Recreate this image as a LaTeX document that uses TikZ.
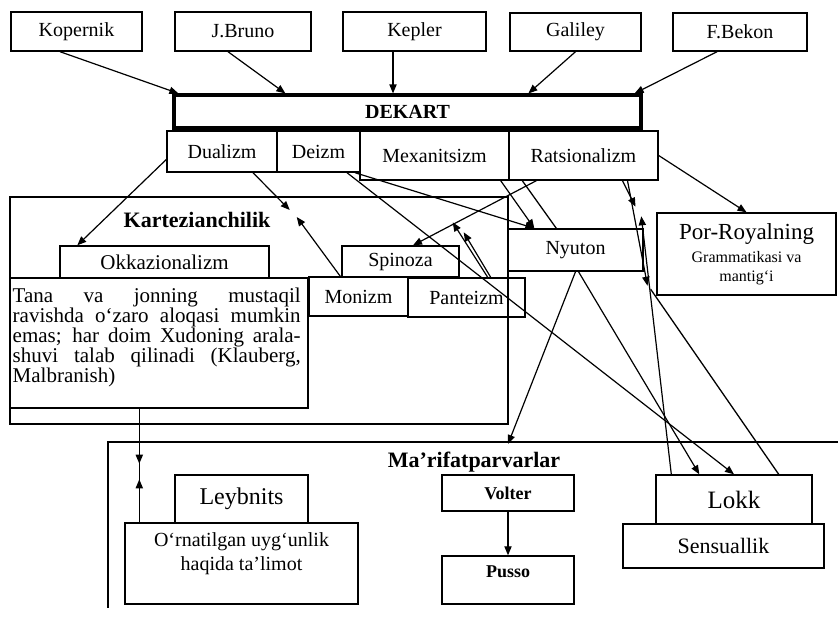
\documentclass[tikz,border=0pt]{standalone}
\usepackage{fontspec}
\setmainfont{Liberation Serif}
\usetikzlibrary{arrows.meta,positioning}
\tikzset{
  >={Triangle[length=4.5pt,width=3.6pt]},
  box/.style 2 args={draw,line width=0.7pt,inner sep=0pt,minimum width=#1*0.5pt,
    minimum height=#2*0.5pt,align=center,font=\fontsize{10}{12}\selectfont},
  frame/.style={line width=0.65pt},
  link/.style={->,line width=0.6pt},
  title/.style={inner sep=0pt,font=\fontsize{11}{13}\selectfont\bfseries},
  inner/.style={inner sep=0pt,align=#1},
  inner/.default=center,
}

\begin{document}
\begin{tikzpicture}[x=0.5pt,y=-0.5pt]
  \useasboundingbox (0,0) rectangle (838,618);
  % predecessors
  \node[box={131}{39}] (kop) at (76.5,31.5) {Kopernik};
  \node[box={136}{39}] (bru) at (243,31.5) {J.Bruno};
  \node[box={143}{39}] (kep) at (414.5,31.5) {Kepler};
  \node[box={131}{38}] (gal) at (575.5,32) {Galiley};
  \node[box={134}{38}] (bek) at (740,32) {F.Bekon};
  % Dekart and his teaching
  \node[box={467}{33},line width=1.6pt,font=\bfseries] (dek) at (407.5,111.5) {DEKART};
  \node[box={110}{41}] (dua) at (222,151.5) {Dualizm};
  \node[box={83}{41}] (dei) at (318.5,151.5) {Deizm};
  \node[box={149}{49}] (mex) at (434.5,155.5) {Mexanitsizm};
  \node[box={149}{49}] (rat) at (583.5,155.5) {Ratsionalizm};
  % Kartezianchilik
  \draw[frame] (10,197) rectangle (508,424);
  \node[title] (kart) at (197,220) {Kartezianchilik};
  \node[box={209}{32},font=\fontsize{10.5}{12}\selectfont] (okk) at (164.5,262) {Okkazionalizm};
  \node[box={298}{130}] (tana) at (159,343) {};
  \node[inner=left,font=\fontsize{10.5}{10}\selectfont,below right=5pt and 1.5pt of tana.north west] (tanaT)
    {\makebox[144pt][s]{Tana va jonning mustaqil}\\
     \makebox[144pt][s]{ravishda o‘zaro aloqasi mumkin}\\
     \makebox[144pt][s]{emas; har doim Xudoning arala-}\\
     \makebox[144pt][s]{shuvi talab qilinadi (Klauberg,}\\
     Malbranish)};
  \node[box={117}{31}] (spi) at (400.5,261.5) {Spinoza};
  \node[box={99}{39}] (mon) at (358.5,296.5) {Monizm};
  \node[box={117}{39}] (pan) at (466.5,297.5) {Panteizm};
  \node[box={135}{42}] (nyu) at (575.5,250) {Nyuton};
  \node[box={179}{82},font=\fontsize{8}{9.5}\selectfont] (por) at (746.5,254)
    {{\fontsize{11.5}{13}\selectfont Por-Royalning}\\[2pt]Grammatikasi va\\mantig‘i};
  % Ma'rifatparvarlar
  \draw[frame] (838,442) -| (108,608);
  \node[title] (marif) at (474,462) {Ma’rifatparvarlar};
  \coordinate (mtop) at (508,444);
  \node[box={133}{48},font=\fontsize{12}{14}\selectfont] (ley) at (241.5,499) {Leybnits};
  \node[box={233}{81}] (orn) at (241.5,563.5) {};
  \node[inner,font=\fontsize{10}{12}\selectfont,below=5pt of orn.north] (ornT)
    {O‘rnatilgan uyg‘unlik\\haqida ta’limot};
  \node[box={132}{36},font=\fontsize{9}{11}\selectfont\bfseries] (vol) at (508,493) {Volter};
  \node[box={132}{48}] (pus) at (508,580) {};
  \node[inner,font=\fontsize{9}{11}\selectfont\bfseries,below=5pt of pus.north] (pusT) {Pusso};
  \node[box={156}{49},font=\fontsize{12.5}{14}\selectfont] (lok) at (734,499.5) {Lokk};
  \node[box={201}{44},font=\fontsize{11}{13}\selectfont] (sen) at (723.5,546) {Sensuallik};

  % into Dekart
  \draw[link] ([xshift=-8.25pt]kop.south) -- ([xshift=3pt]dek.north west);
  \draw[link] ([xshift=-7.5pt]bru.south) -- ([xshift=56.5pt]dek.north west);
  \draw[link] ([xshift=-10.75pt]kep.south) -- ([xshift=-10.75pt]kep.south |- dek.north);
  \draw[link] (gal.south) -- ([xshift=178pt]dek.north west);
  \draw[link] ([xshift=-11.5pt]bek.south) -- ([xshift=-4pt]dek.north east);
  % Kartezianchilik links
  \draw[link] ([yshift=-4pt]dua.west) -- ([xshift=9pt]okk.north west);
  \draw[link] ([xshift=15.5pt]dua.south) -- ([xshift=9.5pt,yshift=5pt]kart.east);
  \draw[link] ([xshift=16pt]mon.north west) -- ([xshift=13pt,yshift=1.5pt]kart.east);
  \draw[link] ([xshift=14pt]rat.south west) -- ([xshift=6.25pt]spi.north);
  \draw[link] ([xshift=-17.5pt]pan.north east) -- ++(-27,-45);
  \draw[link] ([xshift=-19pt]pan.north east) -- ++(-35,-55);
  % towards Nyuton and Lokk
  \draw[link] ([xshift=14.25pt]dei.south) -- (lok.north);
  \draw[link] ([xshift=18.25pt]dei.south) -- ([xshift=13.5pt]nyu.north west);
  \draw[link] ([xshift=-4.5pt]mex.south east) -- ([xshift=13.5pt]nyu.north west);
  \draw[frame] ([xshift=7pt]rat.south west) -- ([xshift=24.5pt]nyu.north west);
  \draw[link] (nyu.south) -- (mtop);
  \draw[link] ([xshift=1.5pt]nyu.south) -- ([xshift=22pt]lok.north west);
  \draw[link] ([xshift=8pt]lok.north west) -- ++(-30,-258);
  \draw[frame] ([xshift=-17pt]lok.north east) -- ++(-128,-185);
  \draw[link] ([xshift=19.5pt]rat.south) -- ++(13,26);
  \draw[link] ([xshift=22pt]rat.south) -- ++(20,105);
  \draw[link] (rat.east) -- (por.north);
  % Leybnits and Volter
  \draw[frame] ([xshift=65pt]tana.south west) -- ([xshift=65pt]tana.south west |- orn.north);
  \draw[link] ([xshift=65pt]tana.south west) -- ++(0,55);
  \draw[link] ([xshift=65pt]tana.south west |- orn.north) -- ++(0,-43);
  \draw[link] (vol.south) -- (pus.north);
\end{tikzpicture}
\end{document}
